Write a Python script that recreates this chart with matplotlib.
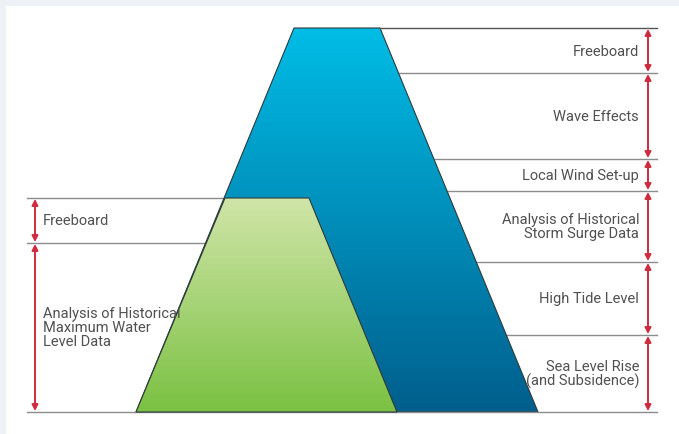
import numpy as np
import matplotlib
matplotlib.use("Agg")
import matplotlib.pyplot as plt
from matplotlib.patches import Polygon, Rectangle
from matplotlib.colors import LinearSegmentedColormap

# heights above ground (px units)
right_levels = [0, 77, 150, 221, 253, 339, 384]
right_labels = ["Sea Level Rise\n(and Subsidence)", "High Tide Level",
                "Analysis of Historical\nStorm Surge Data", "Local Wind Set-up",
                "Wave Effects", "Freeboard"]
left_levels = [0, 169, 214]
left_labels = ["Analysis of Historical\nMaximum Water\nLevel Data", "Freeboard"]

# trapezoids: (bottom-left x, bottom-right x, top-left x, top-right x, top height)
blue_shape = [136, 538, 294, 380, 384]
green_shape = [136, 397, 225, 309, 214]

GROUND = 413
TEXT = "#505050"
RED = "#cf2a3f"
LINE = "#8c8c8c"

plt.rcParams['font.family'] = ['Roboto', 'DejaVu Sans']

fig = plt.figure(figsize=(6.79, 4.35), dpi=100)
fig.patch.set_facecolor("#edf1f5")
ax = fig.add_axes([0, 0, 1, 1])
ax.set_xlim(0, 679)
ax.set_ylim(GROUND - 435, GROUND)
ax.axis("off")
ax.add_patch(Rectangle((6, GROUND - 435), 700, 435 - 7, facecolor="white",
                       edgecolor="none", zorder=0))


def edge_x(shape, h, side):
    bl, br, tl, tr, top = shape
    if side == "left":
        return bl + (tl - bl) * h / top
    return br + (tr - br) * h / top


def trapezoid(shape, c_top, c_bot, z):
    bl, br, tl, tr, top = shape
    poly = Polygon([(bl, 0), (br, 0), (tr, top), (tl, top)], closed=True,
                   facecolor="none", edgecolor="#2d3a3a", lw=0.8, zorder=z + 1)
    ax.add_patch(poly)
    cmap = LinearSegmentedColormap.from_list("g", [c_bot, c_top])
    grad = np.linspace(0, 1, 256).reshape(-1, 1)
    im = ax.imshow(grad, extent=[bl, br, 0, top], origin="lower", cmap=cmap,
                   aspect="auto", zorder=z)
    clip = Polygon([(bl, 0), (br, 0), (tr, top), (tl, top)], closed=True,
                   transform=ax.transData)
    im.set_clip_path(clip)


# right-hand guide lines
for h in right_levels[1:-1]:
    ax.plot([edge_x(blue_shape, h, "right"), 657], [h, h], color=LINE, lw=1, zorder=1)
# left-hand guide lines
for h in left_levels[1:]:
    ax.plot([27, edge_x(green_shape, h, "left")], [h, h], color=LINE, lw=1, zorder=1)
ax.plot([27, 657], [0, 0], color=LINE, lw=1, zorder=5)

trapezoid(blue_shape, "#00bde6", "#005e8c", 2)
trapezoid(green_shape, "#d0e5a8", "#7bc143", 4)
ax.plot([blue_shape[3], 657], [blue_shape[4]] * 2, color="#555555", lw=1, zorder=6)


def arrows(x, levels):
    for lo, hi in zip(levels[:-1], levels[1:]):
        ax.annotate("", xy=(x, hi - 1), xytext=(x, lo + 1),
                    arrowprops=dict(arrowstyle="<|-|>,head_length=0.35,head_width=0.18",
                                    color=RED, lw=1.4, shrinkA=0, shrinkB=0), zorder=7)


arrows(648, right_levels)
arrows(35, left_levels)

for lo, hi, lab in zip(right_levels[:-1], right_levels[1:], right_labels):
    ax.text(639, (lo + hi) / 2, lab, ha="right", va="center", color=TEXT,
            fontsize=10.5, linespacing=1.0, zorder=10)
for lo, hi, lab in zip(left_levels[:-1], left_levels[1:], left_labels):
    ax.text(43, (lo + hi) / 2, lab, ha="left", va="center", color=TEXT,
            fontsize=10.5, linespacing=1.0, zorder=10)

fig.savefig("out.png", dpi=100, facecolor=fig.get_facecolor())
